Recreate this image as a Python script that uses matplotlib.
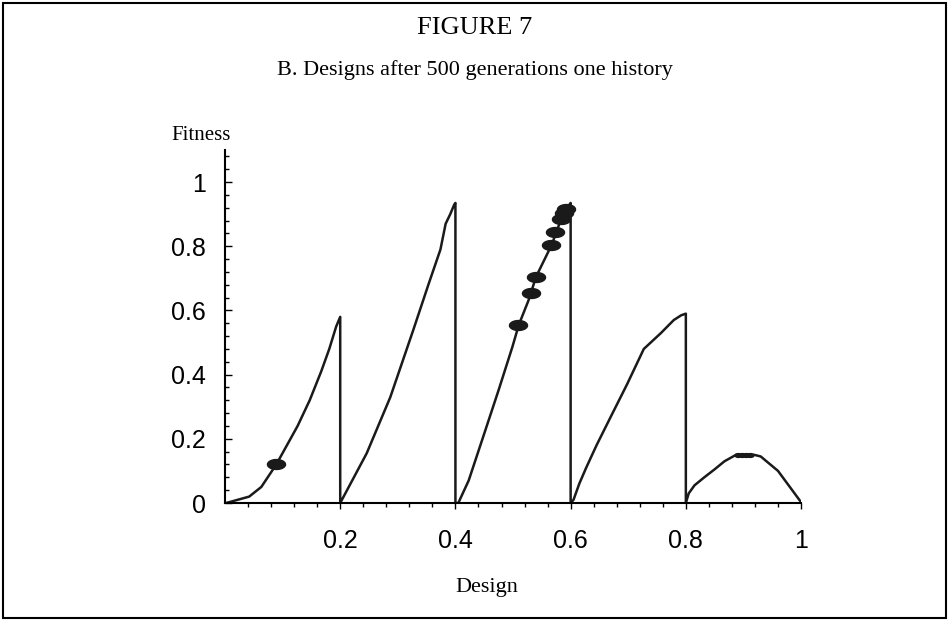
# %%
import numpy as np
import matplotlib.pyplot as plt
from matplotlib.path import Path
from matplotlib.patches import Rectangle

# 폰트 설정 (제목은 세리프, 눈금은 산세리프)
plt.rcParams['font.family'] = 'Liberation Sans'
plt.rcParams['axes.unicode_minus'] = False

# fitness landscape - 5 branches, each one drops back to 0 at the right edge
x1 = [0.002, 0.022, 0.042, 0.063, 0.089, 0.126, 0.147, 0.167, 0.181, 0.193, 0.2, 0.2]
y1 = [0.0, 0.01, 0.02, 0.05, 0.12, 0.24, 0.32, 0.41, 0.48, 0.55, 0.58, 0.0]

x2 = [0.2, 0.246, 0.287, 0.327, 0.353, 0.374, 0.383, 0.391, 0.398, 0.4, 0.4]
y2 = [0.0, 0.155, 0.33, 0.54, 0.68, 0.79, 0.87, 0.90, 0.93, 0.935, 0.0]

x3 = [0.405, 0.423, 0.452, 0.475, 0.499, 0.51, 0.527, 0.54, 0.567, 0.575, 0.585, 0.598, 0.6, 0.6]
y3 = [0.0, 0.07, 0.227, 0.352, 0.487, 0.555, 0.632, 0.705, 0.804, 0.843, 0.892, 0.93, 0.935, 0.0]

x4 = [0.6, 0.605, 0.615, 0.627, 0.645, 0.67, 0.698, 0.727, 0.757, 0.779, 0.792, 0.8, 0.8]
y4 = [0.0, 0.01, 0.06, 0.11, 0.18, 0.27, 0.37, 0.48, 0.53, 0.57, 0.585, 0.59, 0.0]

x5 = [0.8, 0.805, 0.815, 0.832, 0.85, 0.867, 0.887, 0.919, 0.93, 0.96, 0.999]
y5 = [0.0, 0.03, 0.055, 0.08, 0.105, 0.13, 0.15, 0.15, 0.145, 0.10, 0.005]

# designs (population) after 500 generations
pop_x = [0.089, 0.508, 0.532, 0.540, 0.566, 0.572, 0.584, 0.588, 0.592]
pop_y = [0.121, 0.555, 0.653, 0.705, 0.804, 0.843, 0.885, 0.905, 0.915]

# few designs sitting on top of the last hill
top_x = [0.89, 0.897, 0.904, 0.911]
top_y = [0.15, 0.15, 0.15, 0.15]

x_ticks = [0.2, 0.4, 0.6, 0.8, 1.0]
x_labels = ["0.2", "0.4", "0.6", "0.8", "1"]
y_ticks = [0, 0.2, 0.4, 0.6, 0.8, 1.0]
y_labels = ["0", "0.2", "0.4", "0.6", "0.8", "1"]

# %%
fig = plt.figure(figsize=(9.49, 6.21), dpi=100)
ax = fig.add_axes([0.2371, 0.19, 0.607, 0.5685])

x_all = x1 + x2 + x3 + x4 + x5
y_all = y1 + y2 + y3 + y4 + y5
ax.plot(x_all, y_all, color="#1a1a1a", lw=1.8, solid_joinstyle="round")

# 타원 모양 마커
t = np.linspace(0, 2 * np.pi, 60)
ell = Path(np.column_stack([np.cos(t), 0.55 * np.sin(t)]), closed=True)
ax.plot(pop_x, pop_y, ls="none", marker=ell, ms=13, color="#1a1a1a")
ax.plot(top_x, top_y, ls="none", marker=ell, ms=5, color="#1a1a1a")

ax.set_xlim(0, 1)
ax.set_ylim(0, 1.1)

ax.spines["top"].set_visible(False)
ax.spines["right"].set_visible(False)
ax.spines["left"].set_linewidth(1.5)
ax.spines["bottom"].set_linewidth(1.5)

ax.set_xticks(x_ticks)
ax.set_xticklabels(x_labels)
ax.set_yticks(y_ticks)
ax.set_yticklabels(y_labels)
ax.set_xticks(np.arange(0.04, 1.0, 0.04), minor=True)
ax.set_yticks(np.arange(0.04, 1.1, 0.04), minor=True)

ax.tick_params(axis="x", which="major", direction="out", length=4, width=1, labelsize=18, pad=15)
ax.tick_params(axis="x", which="minor", direction="out", length=3, width=1)
ax.tick_params(axis="y", which="major", direction="in", length=5, width=1, labelsize=18, pad=14)
ax.tick_params(axis="y", which="minor", direction="in", length=3, width=1)

# 제목, 축 이름
fig.text(0.5, 0.955, "FIGURE 7", ha="center", va="center", family="Liberation Serif", fontsize=19)
fig.text(0.5, 0.887, "B. Designs after 500 generations one history", ha="center", va="center",
         family="Liberation Serif", fontsize=16)
fig.text(0.212, 0.781, "Fitness", ha="center", va="center", family="Liberation Serif", fontsize=15)
fig.text(0.513, 0.0547, "Design", ha="center", va="center", family="Liberation Serif", fontsize=16)

# 바깥 테두리
fig.add_artist(Rectangle((0.003, 0.005), 0.994, 0.99, transform=fig.transFigure,
                         fill=False, lw=1.5, color="black"))

fig.savefig("out.png", dpi=100)
